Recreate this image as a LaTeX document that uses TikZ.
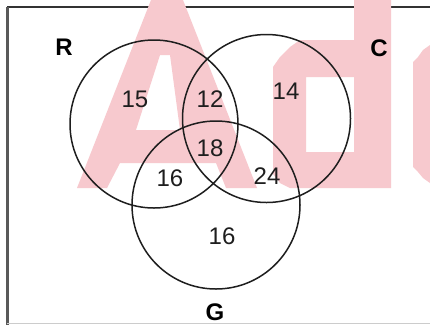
\documentclass[tikz,border=0pt]{standalone}
\usepackage{fontspec}
\setmainfont{Liberation Sans}
\definecolor{wmpink}{RGB}{247,201,206}
\definecolor{inkc}{RGB}{30,30,30}
\tikzset{
  vcirc/.style={circle,draw=inkc,line width=1.5pt,minimum size=168pt,inner sep=0pt},
  num/.style={font=\fontsize{24}{24}\selectfont,text=inkc,inner sep=0pt,anchor=center},
  lbl/.style={font=\fontsize{24}{24}\selectfont\bfseries,text=black,inner sep=0pt,anchor=center},
  wm/.style={fill=wmpink,draw=none,even odd rule},
}
\begin{document}
\begin{tikzpicture}[x=1pt,y=-1pt]
\useasboundingbox (0,0) rectangle (430,325);
\fill[white] (0,0) rectangle (430,325);
% frame
\draw[line width=1.6pt,color=black!80] (7,7) -- (430,7);
\draw[line width=2.4pt,color=black!65] (7.5,7) -- (7.5,325);
\draw[line width=1pt,color=black!20] (7,323) -- (430,323);
% watermark
\path[wm] (151,0) -- (183,0) -- (257,188) -- (226,188) -- (216,163) -- (120,163) -- (107,188) -- (77,188) -- cycle
  (160,55) -- (170,55) -- (180,130) -- (136,130) -- cycle;
\path[wm] (354,0) -- (391,0) -- (391,188) -- (290,188) -- (280,183) -- (273,174) -- (273,67) -- (280,57) -- (290,47) -- (300,40) -- (354,40) -- cycle
  (306,77) rectangle (354,152);
\path[wm] (430,45) -- (423,50) -- (418,57) -- (413,62) -- (413,167) -- (418,172) -- (423,178) -- (430,183) -- cycle;
% circles
\node[vcirc] (cR) at (154,124) {};
\node[vcirc] (cC) at (266.5,118.5) {};
\node[vcirc] (cG) at (216,205) {};
% labels
\node[lbl] (lR) at (64,47.5) {R};
\node[lbl] (lC) at (379,48) {C};
\node[lbl] (lG) at (215,312) {G};
% numbers
\node[num] (n15) at (135,99) {15};
\node[num] (n12) at (210,99) {12};
\node[num] (n14) at (286,91) {14};
\node[num] (n18) at (210,148) {18};
\node[num] (n16a) at (170,178) {16};
\node[num] (n24) at (267,176) {24};
\node[num] (n16b) at (222,236) {16};
\end{tikzpicture}
\end{document}
